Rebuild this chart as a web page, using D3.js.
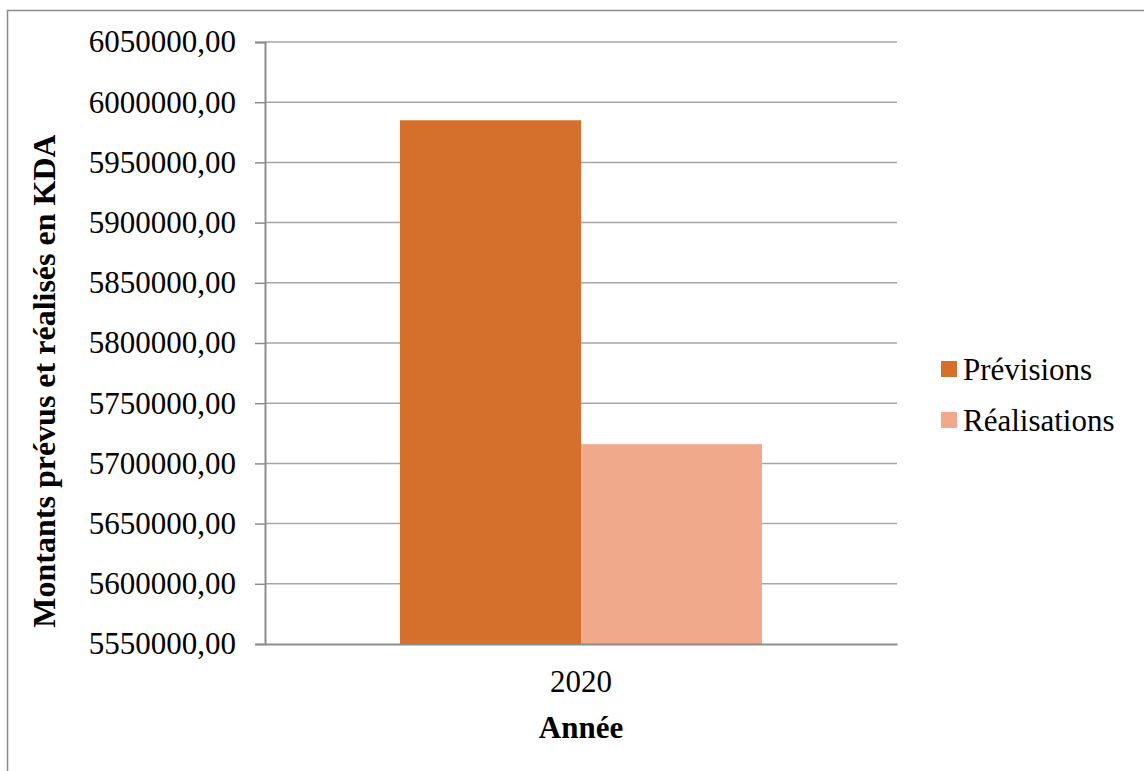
<!DOCTYPE html>
<html>
<head>
<meta charset="utf-8">
<script src="https://cdn.jsdelivr.net/npm/d3@7"></script>
</head>
<body style="margin:0;padding:0;background:#fff;">
<svg id="chart" width="1144" height="771" style="display:block;"></svg>
<script>
// Budget execution for 2020 (KDA)
const years = ["2020"];
const seriesNames = ["Prévisions", "Réalisations"];
const previsions = [5985000];
const realisations = [5716000];
const yTicks = [5550000, 5600000, 5650000, 5700000, 5750000, 5800000, 5850000, 5900000, 5950000, 6000000, 6050000];
const colors = ["#d4702b", "#f1a98b"];
const FONT = "'Liberation Serif', 'Times New Roman', serif";

const rows = years.map((y, i) => ({ year: y, values: [previsions[i], realisations[i]] }));

const svg = d3.select("#chart");
const W = 1144, H = 771;

// outer frame (left and top edges visible)
svg.append("path")
  .attr("d", `M7.5,${H + 2} L7.5,10.5 L${W + 2},10.5`)
  .attr("fill", "none").attr("stroke", "#8c8c8c").attr("stroke-width", 1.5);

const plot = { left: 265, right: 897, top: 42, bottom: 644 };

const y = d3.scaleLinear()
  .domain([5550000, 6050000])
  .range([plot.bottom, plot.top]);

const x0 = d3.scaleBand()
  .domain(years)
  .range([plot.left, plot.right])
  .paddingInner(0.2716)
  .paddingOuter(0.2716);

const x1 = d3.scaleBand()
  .domain(seriesNames)
  .range([0, x0.bandwidth()]);

const fmt = v => d3.format(".2f")(v).replace(".", ",");

// horizontal gridlines
svg.append("g")
  .selectAll("line")
  .data(yTicks.filter(t => t !== 5550000))
  .join("line")
  .attr("x1", plot.left).attr("x2", plot.right)
  .attr("y1", d => y(d)).attr("y2", d => y(d))
  .attr("stroke", "#a6a6a6").attr("stroke-width", 1.5);

// bars
const groups = svg.append("g")
  .selectAll("g")
  .data(rows)
  .join("g")
  .attr("transform", d => `translate(${x0(d.year)},0)`);

groups.selectAll("rect")
  .data(d => d.values.map((v, i) => ({ name: seriesNames[i], value: v, i })))
  .join("rect")
  .attr("x", d => x1(d.name))
  .attr("y", d => y(d.value))
  .attr("width", x1.bandwidth())
  .attr("height", d => y(5550000) - y(d.value))
  .attr("fill", d => colors[d.i]);

// y axis
const yAxis = d3.axisLeft(y)
  .tickValues(yTicks)
  .tickSize(10)
  .tickPadding(19)
  .tickFormat(fmt);

const gy = svg.append("g")
  .attr("transform", `translate(${plot.left},0)`)
  .call(yAxis);
gy.select(".domain").attr("stroke", "#8c8c8c").attr("stroke-width", 2);
gy.selectAll(".tick line").attr("stroke", "#8c8c8c").attr("stroke-width", 1.5);
gy.selectAll(".tick text")
  .attr("font-size", 31)
  .attr("fill", "#000")
  .style("font-family", FONT);

// x axis baseline
const xAxis = d3.axisBottom(x0).tickSize(0).tickPadding(26);
const gx = svg.append("g")
  .attr("transform", `translate(0,${plot.bottom})`)
  .call(xAxis);
gx.select(".domain").attr("stroke", "#8c8c8c").attr("stroke-width", 2);
gx.selectAll(".tick text")
  .attr("font-size", 31)
  .attr("fill", "#000")
  .style("font-family", FONT);

// axis titles
svg.append("text")
  .attr("x", (plot.left + plot.right) / 2)
  .attr("y", 738)
  .attr("text-anchor", "middle")
  .attr("font-size", 31)
  .attr("font-weight", "bold")
  .style("font-family", FONT)
  .text("Année");

svg.append("text")
  .attr("transform", `translate(55,381) rotate(-90)`)
  .attr("text-anchor", "middle")
  .attr("font-size", 32)
  .attr("font-weight", "bold")
  .style("font-family", FONT)
  .text("Montants prévus et réalisés en KDA");

// legend
const legend = svg.append("g")
  .selectAll("g")
  .data(seriesNames)
  .join("g")
  .attr("transform", (d, i) => `translate(941,${361 + i * 51})`);

legend.append("rect")
  .attr("width", 16).attr("height", 16)
  .attr("fill", (d, i) => colors[i]);

legend.append("text")
  .attr("x", 22)
  .attr("y", 19)
  .attr("font-size", 31)
  .attr("fill", "#000")
  .style("font-family", FONT)
  .text(d => d);
</script>
</body>
</html>
